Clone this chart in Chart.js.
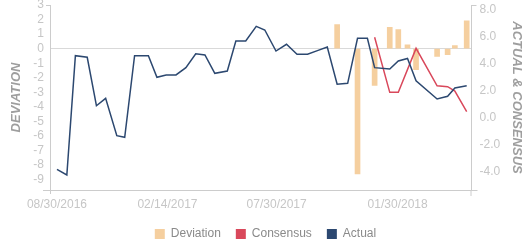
<!DOCTYPE html>
<html>
<head>
<meta charset="utf-8">
<script src="https://cdn.jsdelivr.net/npm/chart.js@4"></script>
<style>
  html, body { margin: 0; padding: 0; background: #fff; }
  #wrap { width: 531px; height: 250px; }
</style>
</head>
<body>
<div id="wrap"><canvas id="grafico"></canvas></div>
<script>
// release dates (x)
var datas = [
  '2016-08-30', '2016-09-14', '2016-09-27', '2016-10-15', '2016-10-29', '2016-11-12',
  '2016-11-29', '2016-12-11', '2016-12-26', '2017-01-16', '2017-01-29', '2017-02-12',
  '2017-02-27', '2017-03-14', '2017-03-29', '2017-04-12', '2017-04-27', '2017-05-16',
  '2017-05-29', '2017-06-13', '2017-06-29', '2017-07-12', '2017-07-29', '2017-08-14',
  '2017-08-30', '2017-09-15', '2017-09-30', '2017-10-15', '2017-10-30', '2017-11-15',
  '2017-11-30', '2017-12-15', '2017-12-26', '2018-01-18', '2018-01-31', '2018-02-14',
  '2018-02-27', '2018-03-31', '2018-04-16', '2018-04-27', '2018-05-15'
];

var actual = [
  -3.83, -4.25, 4.59, 4.47, 0.88, 1.43,
  -1.34, -1.46, 4.59, 4.59, 2.99, 3.16,
  3.16, 3.70, 4.73, 4.64, 3.28, 3.45,
  5.67, 5.67, 6.76, 6.49, 4.93, 5.43,
  4.69, 4.69, 4.96, 5.23, 2.47, 2.54,
  5.87, 5.87, 3.70, 3.60, 4.19, 4.38,
  2.73, 1.38, 1.58, 2.19, 2.36
];

var consensus = [
  null, null, null, null, null, null,
  null, null, null, null, null, null,
  null, null, null, null, null, null,
  null, null, null, null, null, null,
  null, null, null, null, null, null,
  null, null, 5.95, 1.87, 1.87, null,
  5.13, 2.36, 2.29, 1.97, 0.44
];

var desvio = [
  null, null, null, null, null, null,
  null, null, null, null, null, null,
  null, null, null, null, null, null,
  null, null, null, null, null, null,
  null, null, null, null, 1.65, null,
  -8.61, null, -2.52, 1.46, 1.31, 0.27,
  -1.44, -0.53, -0.41, 0.21, 1.92
];

var rotulosX = ['2016-08-30', '2017-02-14', '2017-07-30', '2018-01-30'];

var DIA = 86400000;
var t = function(s) { return Date.parse(s + 'T00:00:00Z'); };
var pares = function(vals) {
  return datas.map(function(d, i) { return {x: t(d), y: vals[i]}; });
};
var fmt = function(v) {
  var d = new Date(v);
  var p = function(n) { return (n < 10 ? '0' : '') + n; };
  return p(d.getUTCMonth() + 1) + '/' + p(d.getUTCDate()) + '/' + d.getUTCFullYear();
};

var cinzaTick = '#c6c6c6';
var cinzaEixo = '#cccccc';
var cinzaTitulo = '#9e9e9e';

// axis line ends sticking out a little past the plot, like the original
var pontasEixo = {
  id: 'pontasEixo',
  afterDraw: function(chart) {
    var a = chart.chartArea, c = chart.ctx;
    c.save();
    c.strokeStyle = cinzaEixo;
    c.lineWidth = 1;
    c.beginPath();
    c.moveTo(a.left - 7, a.bottom + 0.5); c.lineTo(a.left, a.bottom + 0.5);
    c.moveTo(a.right, a.bottom + 0.5); c.lineTo(a.right + 6, a.bottom + 0.5);
    c.moveTo(a.left - 4, a.top + 0.5); c.lineTo(a.left, a.top + 0.5);
    c.moveTo(a.right, a.top + 0.5); c.lineTo(a.right + 5, a.top + 0.5);
    c.moveTo(a.left + 0.5, a.bottom); c.lineTo(a.left + 0.5, a.bottom + 4);
    c.moveTo(a.right - 0.5, a.bottom); c.lineTo(a.right - 0.5, a.bottom + 6);
    c.stroke();
    c.restore();
  }
};

Chart.defaults.font.family = "'Liberation Sans', Arial, sans-serif";
Chart.defaults.font.size = 12;

new Chart(document.getElementById('grafico'), {
  data: {
    datasets: [{
        label: 'Deviation',
        type: 'bar',
        data: pares(desvio),
        backgroundColor: '#f5cf9f',
        barThickness: 5,
        grouped: false,
        yAxisID: 'y',
        order: 2
      }, {
        label: 'Consensus',
        type: 'line',
        data: pares(consensus),
        borderColor: '#d9485b',
        backgroundColor: '#d9485b',
        borderWidth: 1.5,
        pointRadius: 0,
        tension: 0,
        spanGaps: true,
        yAxisID: 'y1',
        order: 1
      }, {
        label: 'Actual',
        type: 'line',
        data: pares(actual),
        borderColor: '#2c4870',
        backgroundColor: '#2c4870',
        borderWidth: 1.5,
        pointRadius: 0,
        tension: 0,
        yAxisID: 'y1',
        order: 0
      }]
  },
  plugins: [pontasEixo],
  options: {
    responsive: true,
    maintainAspectRatio: false,
    animation: false,
    layout: { padding: { top: 5, left: 0, right: 0, bottom: 0 } },
    plugins: {
      tooltip: { enabled: false },
      legend: {
        display: true,
        position: 'bottom',
        labels: {
          boxWidth: 10,
          boxHeight: 10,
          padding: 15,
          color: '#8a8a8a',
          font: { size: 12 },
          sort: function(a, b) { return a.datasetIndex - b.datasetIndex; },
          generateLabels: function(chart) {
            return Chart.defaults.plugins.legend.labels.generateLabels(chart).map(function(l) {
              l.lineWidth = 0;
              return l;
            });
          }
        }
      }
    },
    scales: {
      x: {
        type: 'linear',
        position: 'bottom',
        offset: false,
        min: t('2016-08-30') - 10.6 * DIA,
        max: t('2016-08-30') + 630.3 * DIA,
        afterBuildTicks: function(scale) {
          scale.ticks = rotulosX.map(function(d) { return {value: t(d)}; });
        },
        afterFit: function(scale) {
          scale.height = 23;
          scale.paddingLeft = 0;
          scale.paddingRight = 0;
        },
        ticks: {
          color: cinzaTick,
          padding: 7,
          maxRotation: 0,
          autoSkip: false,
          callback: function(v) { return fmt(v); }
        },
        grid: { display: false, drawTicks: false, offset: false },
        border: { display: true, color: cinzaEixo, width: 1 }
      },
      y: {
        type: 'linear',
        position: 'left',
        min: -9.71,
        max: 3,
        afterFit: function(scale) {
          scale.width = 50;
          scale.paddingTop = 0;
          scale.paddingBottom = 0;
        },
        ticks: {
          stepSize: 1,
          includeBounds: false,
          autoSkip: false,
          color: cinzaTick,
          padding: 6
        },
        grid: {
          drawTicks: false,
          color: function(ctx) { return ctx.tick && ctx.tick.value === 0 ? '#d9d9d9' : 'rgba(0,0,0,0)'; }
        },
        border: { display: true, color: cinzaEixo, width: 1 },
        title: {
          display: true,
          text: 'DEVIATION',
          color: cinzaTitulo,
          font: { size: 13, weight: 'bold', style: 'italic' },
          padding: { top: 9, bottom: 0 }
        }
      },
      y1: {
        type: 'linear',
        position: 'right',
        min: -5.36,
        max: 8.34,
        afterFit: function(scale) {
          scale.width = 59.5;
          scale.paddingTop = 0;
          scale.paddingBottom = 0;
        },
        ticks: {
          stepSize: 2,
          includeBounds: false,
          autoSkip: false,
          color: cinzaTick,
          padding: 8,
          callback: function(v) { return v.toFixed(1); }
        },
        grid: { display: false, drawTicks: false },
        border: { display: true, color: cinzaEixo, width: 1 },
        title: {
          display: true,
          text: 'ACTUAL & CONSENSUS',
          color: cinzaTitulo,
          font: { size: 13, weight: 'bold', style: 'italic' },
          padding: { top: 7, bottom: 0 }
        }
      }
    }
  }
});
</script>
</body>
</html>
